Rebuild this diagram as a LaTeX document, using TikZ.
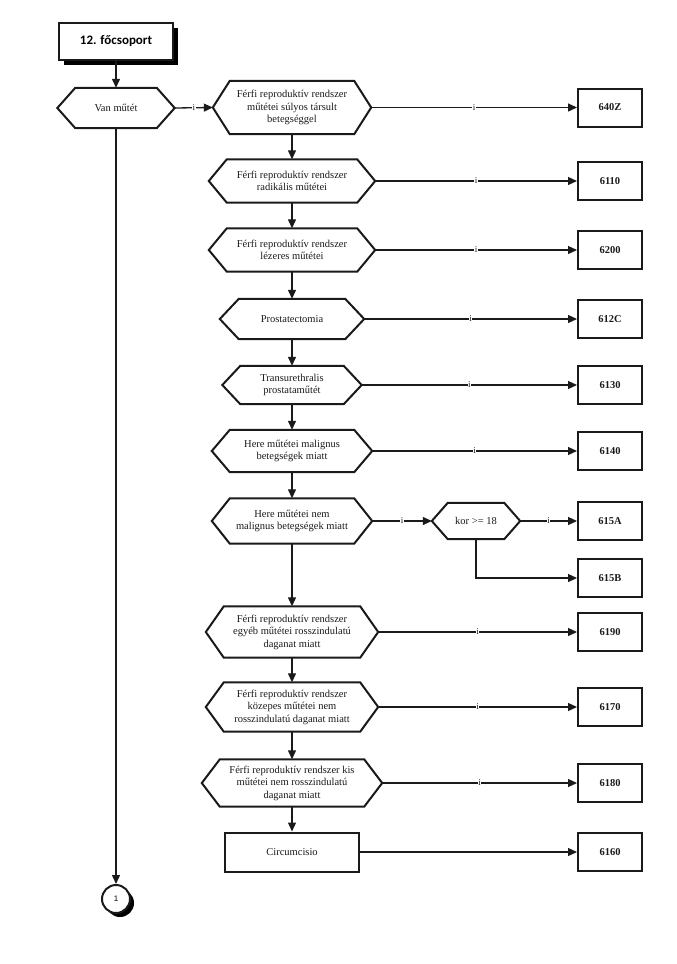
\documentclass[tikz,border=0pt]{standalone}
\usepackage{fontspec}
\setmainfont{Liberation Serif}
\setsansfont{Liberation Sans}
\newfontfamily\headfont{Carlito}
\usetikzlibrary{arrows.meta,shadows}
\definecolor{ink}{HTML}{1A1A1A}
\tikzset{
  shapeline/.style={draw=ink, line width=2pt, line join=miter},
  hexbox/.style={draw=none, inner sep=0pt, align=center, text=ink,
    font=\fontsize{10.5}{12.5}\selectfont},
  codebox/.style={draw=ink, line width=2pt, minimum width=64pt, minimum height=38pt,
    inner sep=0pt, font=\bfseries\fontsize{10.5}{12}\selectfont, text=ink},
  rectbox/.style={draw=ink, line width=2pt, inner sep=0pt, text=ink,
    font=\fontsize{10.5}{12.5}\selectfont},
  headbox/.style={draw=ink, line width=2pt, fill=white, minimum width=114pt, minimum height=37pt,
    inner sep=0pt, font=\headfont\bfseries\fontsize{13}{15}\selectfont,
    drop shadow={shadow xshift=5pt, shadow yshift=-5pt, fill=black, opacity=1}},
  conncirc/.style={circle, draw=ink, line width=2pt, fill=white, minimum size=28pt, inner sep=0pt,
    font=\sffamily\fontsize{8}{8}\selectfont,
    drop shadow={shadow xshift=4pt, shadow yshift=-4pt, fill=black, opacity=1}},
  conn/.style={draw=ink, line width=1.3pt, -{Triangle[length=9pt,width=8pt]}},
  ilab/.style={fill=white, inner sep=0.6pt, text=ink, font=\fontsize{9}{9}\selectfont}
}
\newcommand\hexa[7]{% name, x, y, w, h, depth, text
  \node[hexbox, minimum width=#4pt, minimum height=#5pt] (#1) at (#2,#3) {#7};
  \draw[shapeline] (#1.west) -- ([xshift=#6pt]#1.north west) -- ([xshift=-#6pt]#1.north east)
    -- (#1.east) -- ([xshift=-#6pt]#1.south east) -- ([xshift=#6pt]#1.south west) -- cycle;
}
\begin{document}
\begin{tikzpicture}[x=1pt,y=-1pt]
\useasboundingbox[fill=white] (0,0) rectangle (677,964);

% header
\node[headbox] (head) at (116,41.5) {12. főcsoport};
\hexa{van}{116}{108}{117}{40}{18}{Van műtét}
\draw[conn] (head) -- (van);

% main column
\hexa{h1}{292}{107.5}{158}{53}{17}{Férfi reproduktív rendszer\\műtétei súlyos társult\\betegséggel}
\hexa{h2}{292}{181}{166}{43}{18}{Férfi reproduktív rendszer\\radikális műtétei}
\hexa{h3}{292}{250}{166}{43}{18}{Férfi reproduktív rendszer\\lézeres műtétei}
\hexa{h4}{292}{319}{144}{40}{19}{Prostatectomia}
\hexa{h5}{292}{385}{139}{38}{18}{Transurethralis\\prostataműtét}
\hexa{h6}{292}{451}{160}{42}{18}{Here műtétei malignus\\betegségek miatt}
\hexa{h7}{292}{521}{160}{45}{18}{Here műtétei nem\\malignus betegségek miatt}
\hexa{kor}{476}{521}{88}{36}{16}{kor >= 18}
\hexa{h8}{292}{632}{172}{51}{18}{Férfi reproduktív rendszer\\egyéb műtétei rosszindulatú\\daganat miatt}
\hexa{h9}{292}{707}{172}{49}{18}{Férfi reproduktív rendszer\\közepes műtétei nem\\rosszindulatú daganat miatt}
\hexa{h10}{292}{783}{180}{47}{18}{Férfi reproduktív rendszer kis\\műtétei nem rosszindulatú\\daganat miatt}
\node[rectbox, minimum width=134pt, minimum height=39pt] (circ) at (292,852) {Circumcisio};

% code boxes
\node[codebox] (b1) at (610,107.5) {640Z};
\node[codebox] (b2) at (610,181) {6110};
\node[codebox] (b3) at (610,250) {6200};
\node[codebox] (b4) at (610,319) {612C};
\node[codebox] (b5) at (610,385) {6130};
\node[codebox] (b6) at (610,451) {6140};
\node[codebox] (b7) at (610,521) {615A};
\node[codebox] (b8) at (610,578) {615B};
\node[codebox] (b9) at (610,632) {6190};
\node[codebox] (b10) at (610,707) {6170};
\node[codebox] (b11) at (610,783) {6180};
\node[codebox] (b12) at (610,852) {6160};

% connector circle
\node[conncirc] (c1) at (116,899) {1};
\draw[conn] (van.south) -- (c1.north);

% vertical flow
\draw[conn] (h1.south) -- (h2.north);
\draw[conn] (h2.south) -- (h3.north);
\draw[conn] (h3.south) -- (h4.north);
\draw[conn] (h4.south) -- (h5.north);
\draw[conn] (h5.south) -- (h6.north);
\draw[conn] (h6.south) -- (h7.north);
\draw[conn] (h7.south) -- (h8.north);
\draw[conn] (h8.south) -- (h9.north);
\draw[conn] (h9.south) -- (h10.north);
\draw[conn] (h10.south) -- (circ.north);

% horizontal flow
\draw[conn] (van.east) -- node[ilab]{i} (h1.west);
\draw[conn] (h1.east) -- node[ilab]{i} (b1.west);
\draw[conn] (h2.east) -- node[ilab]{i} (b2.west);
\draw[conn] (h3.east) -- node[ilab]{i} (b3.west);
\draw[conn] (h4.east) -- node[ilab]{i} (b4.west);
\draw[conn] (h5.east) -- node[ilab]{i} (b5.west);
\draw[conn] (h6.east) -- node[ilab]{i} (b6.west);
\draw[conn] (h7.east) -- node[ilab]{i} (kor.west);
\draw[conn] (kor.east) -- node[ilab]{i} (b7.west);
\draw[conn] (kor.south) |- (b8.west);
\draw[conn] (h8.east) -- node[ilab]{i} (b9.west);
\draw[conn] (h9.east) -- node[ilab]{i} (b10.west);
\draw[conn] (h10.east) -- node[ilab]{i} (b11.west);
\draw[conn] (circ.east) -- (b12.west);
\end{tikzpicture}
\end{document}
